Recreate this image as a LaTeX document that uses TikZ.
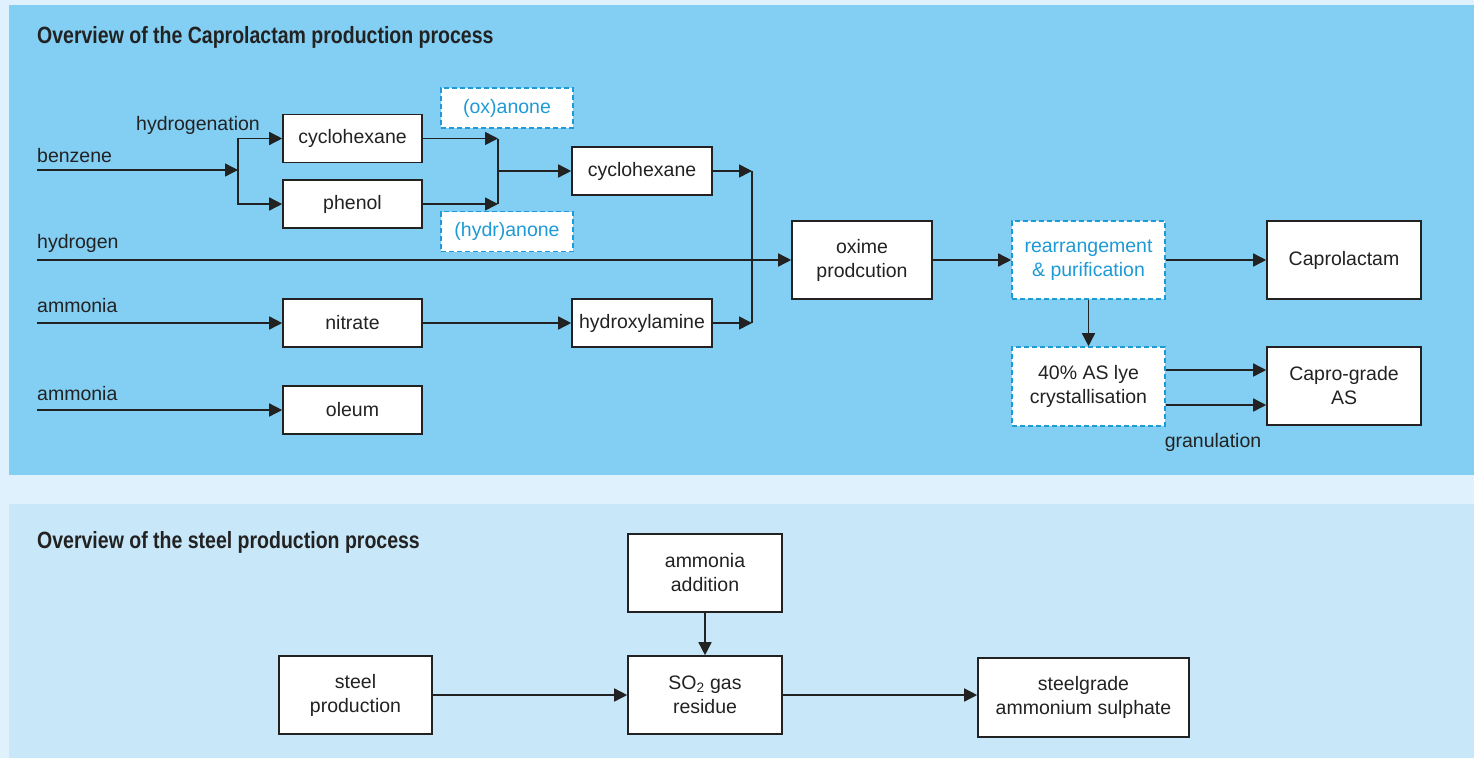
\documentclass[tikz,border=0pt]{standalone}
\usepackage{fontspec}
\setmainfont{Liberation Sans}
\newfontfamily\titlefont[FakeStretch=0.83]{Liberation Sans}
\usetikzlibrary{arrows.meta}
\definecolor{outerbg}{HTML}{DFF1FD}
\definecolor{toppanel}{HTML}{82CFF3}
\definecolor{botpanel}{HTML}{C8E7F8}
\definecolor{ink}{HTML}{222222}
\definecolor{cyanink}{HTML}{1E9AD6}
\tikzset{
  txt/.style={font=\fontsize{19.5}{24}\selectfont, text=ink, inner sep=0pt},
  box/.style={txt, draw=ink, line width=1.6pt, fill=white, align=center},
  smallbox/.style={box, minimum width=139pt, minimum height=48pt},
  bigbox/.style={box, minimum width=153pt, minimum height=78pt},
  dbox/.style={box, draw=cyanink, dash pattern=on 5pt off 3pt},
  lbl/.style={txt, anchor=base west},
  ttl/.style={font=\titlefont\bfseries\fontsize{23.5}{28}\selectfont, text=ink, inner sep=0pt, anchor=base west},
  arr/.style={draw=ink, line width=1.5pt, -{Triangle[length=13pt,width=13pt]}},
  ln/.style={draw=ink, line width=1.5pt},
}
\begin{document}
\begin{tikzpicture}[x=1pt,y=-1pt]
\useasboundingbox (0,0) rectangle (1474,758);
\fill[outerbg] (0,0) rectangle (1474,758);
\fill[toppanel] (9,5) rectangle (1474,475);
\fill[botpanel] (9,504) rectangle (1474,758);

% ---------- top panel ----------
\node[ttl] (t1) at (37,43) {Overview of the Caprolactam production process};

\node[smallbox] (cyc1) at (352.5,138.5) {cyclohexane};
\node[smallbox] (phen) at (352.5,204) {phenol};
\node[dbox, text=cyanink, minimum width=132pt, minimum height=40pt] (ox) at (507,108) {(ox)anone};
\node[dbox, text=cyanink, minimum width=132pt, minimum height=40pt] (hy) at (507,231.5) {(hydr)anone};
\node[smallbox, minimum width=140pt] (cyc2) at (642,171) {cyclohexane};
\node[box, minimum width=140pt, minimum height=78pt] (oxime) at (862,260) {oxime\\prodcution};
\node[dbox, text=cyanink, minimum width=153pt, minimum height=78pt] (rear) at (1088.5,260) {rearrangement\\\& purification};
\node[bigbox, minimum width=154pt] (capro) at (1344,260) {Caprolactam};
\node[dbox, minimum width=153pt, minimum height=79pt] (lye) at (1088.5,386.5) {40\% AS lye\\crystallisation};
\node[bigbox, minimum width=154pt] (cgas) at (1344,386) {Capro-grade\\AS};
\node[smallbox] (nitr) at (352.5,323) {nitrate};
\node[smallbox, minimum width=140pt] (hydx) at (642,323) {hydroxylamine};
\node[smallbox] (oleum) at (352.5,410) {oleum};

\node[lbl] (lbenz) at (37,162) {benzene};
\node[lbl] (lhydg) at (136,130) {hydrogenation};
\node[lbl] (lh2) at (37,248) {hydrogen};
\node[lbl] (lam1) at (37,312) {ammonia};
\node[lbl] (lam2) at (37,400) {ammonia};
\node[txt, anchor=base] (lgran) at (1213,447) {granulation};

\coordinate (bz) at (37,170);
\coordinate (br1) at (238,170);
\coordinate (j1) at (498,171);
\coordinate (j2) at (752,171);
\coordinate (h0) at (37,260);
\coordinate (a1) at (37,323);
\coordinate (a2) at (37,410);

\draw[arr] (bz) -- (br1);
\draw[arr] (br1) |- (cyc1.west);
\draw[arr] (br1) |- (phen.west);
\draw[arr] (cyc1.east) -- (cyc1.east -| j1);
\draw[arr] (phen.east) -- (phen.east -| j1);
\draw[ln] (cyc1.east -| j1) -- (phen.east -| j1);
\draw[arr] (j1) -- (cyc2.west);
\draw[arr] (cyc2.east) -- (j2);
\draw[arr] (hydx.east) -- (hydx.east -| j2);
\draw[ln] (j2) -- (hydx.east -| j2);
\draw[arr] (h0) -- (oxime.west);
\draw[arr] (a1) -- (nitr.west);
\draw[arr] (nitr.east) -- (hydx.west);
\draw[arr] (a2) -- (oleum.west);
\draw[arr] (oxime.east) -- (rear.west);
\draw[arr] (rear.east) -- (capro.west);
\draw[arr] (rear.south) -- (lye.north);
\draw[arr] ([yshift=16.5pt]lye.east) -- ([yshift=16.5pt]lye.east -| cgas.west);
\draw[arr] ([yshift=-18.5pt]lye.east) -- ([yshift=-18.5pt]lye.east -| cgas.west);

% ---------- bottom panel ----------
\node[ttl] (t2) at (37,548) {Overview of the steel production process};
\node[bigbox, minimum width=154pt] (amad) at (705,573) {ammonia\\addition};
\node[bigbox, minimum width=154pt] (so2) at (705,695) {SO\textsubscript{2} gas\\residue};
\node[bigbox] (steel) at (355.5,695) {steel\\production};
\node[box, minimum width=211pt, minimum height=79pt] (sg) at (1083.5,697.5) {steelgrade\\ammonium sulphate};

\draw[arr] (steel.east) -- (so2.west);
\draw[arr] (amad.south) -- (so2.north);
\draw[arr] (so2.east) -- (so2.east -| sg.west);
\end{tikzpicture}
\end{document}
